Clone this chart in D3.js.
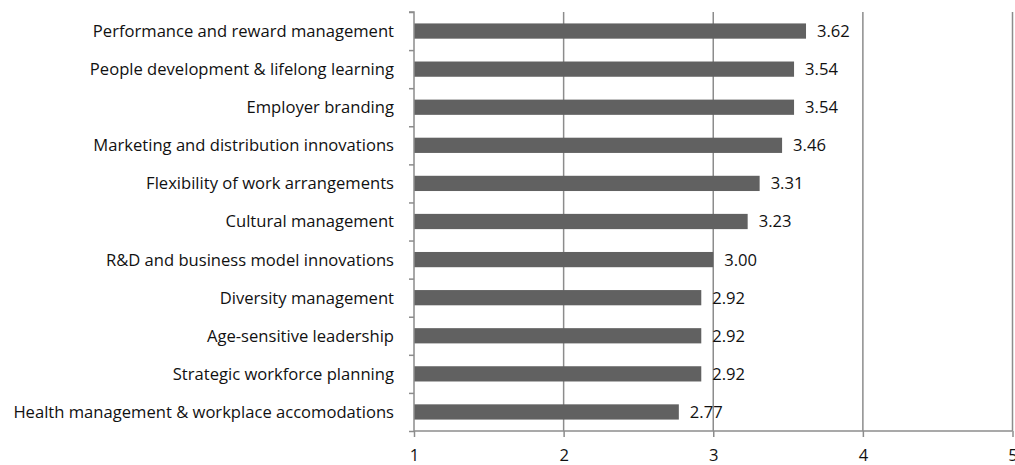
<!DOCTYPE html>
<html>
<head>
<meta charset="utf-8">
<script src="https://cdn.jsdelivr.net/npm/d3@7"></script>
<style>
  html, body { margin: 0; padding: 0; background: #fff; }
  svg { display: block; font-family: "Open Sans", "Liberation Sans", sans-serif; }
</style>
</head>
<body>
<svg id="chart" width="1015" height="465"></svg>
<script>
// Categories listed top to bottom with their mean scores
const categories = [
  "Performance and reward management",
  "People development & lifelong learning",
  "Employer branding",
  "Marketing and distribution innovations",
  "Flexibility of work arrangements",
  "Cultural management",
  "R&D and business model innovations",
  "Diversity management",
  "Age-sensitive leadership",
  "Strategic workforce planning",
  "Health management & workplace accomodations"
];
const values = [3.62, 3.54, 3.54, 3.46, 3.31, 3.23, 3.00, 2.92, 2.92, 2.92, 2.77];
const xTicks = [1, 2, 3, 4, 5];

const svg = d3.select("#chart");
const margin = { top: 12, right: 2, bottom: 34, left: 414 };
const W = 1015, H = 465;
const fontSize = 16.6;
const x = d3.scaleLinear().domain([1, 5]).range([margin.left, W - margin.right - 0.5]);
const y = d3.scaleBand().domain(categories).range([margin.top, H - margin.bottom]).paddingInner(0.6).paddingOuter(0.3);

const gridColor = "#8c8c8c";

// vertical gridlines
svg.append("g")
  .selectAll("line")
  .data(xTicks.slice(1))
  .join("line")
  .attr("x1", d => x(d)).attr("x2", d => x(d))
  .attr("y1", margin.top).attr("y2", H - margin.bottom)
  .attr("stroke", gridColor).attr("stroke-width", 1.5);

// bars
svg.append("g")
  .selectAll("rect")
  .data(values)
  .join("rect")
  .attr("x", x(1))
  .attr("y", (d, i) => y(categories[i]))
  .attr("width", d => x(d) - x(1))
  .attr("height", y.bandwidth())
  .attr("fill", "#616161");

// value labels
svg.append("g")
  .selectAll("text")
  .data(values)
  .join("text")
  .attr("x", d => x(d) + 11)
  .attr("y", (d, i) => y(categories[i]) + y.bandwidth() / 2)
  .attr("dy", "0.36em")
  .attr("font-size", fontSize)
  .attr("fill", "#111")
  .text(d => d.toFixed(2));

// category axis
const yAxis = d3.axisLeft(d3.scaleLinear().domain([0, categories.length]).range([margin.top, H - margin.bottom]))
  .ticks(categories.length).tickSize(5).tickFormat("");
const gy = svg.append("g").attr("transform", `translate(${margin.left},0)`).call(yAxis);
gy.selectAll("path, line").attr("stroke", gridColor).attr("stroke-width", 1.5);
gy.select(".domain").attr("d", `M-5,${margin.top}H0V${H - margin.bottom}`);

svg.append("g")
  .selectAll("text")
  .data(categories)
  .join("text")
  .attr("x", margin.left - 20)
  .attr("y", d => y(d) + y.bandwidth() / 2)
  .attr("dy", "0.36em")
  .attr("text-anchor", "end")
  .attr("font-size", fontSize)
  .attr("fill", "#111")
  .text(d => d);

// value axis
const xAxis = d3.axisBottom(x).tickValues(xTicks).tickSize(6).tickPadding(12).tickFormat(d3.format("d"));
const gx = svg.append("g").attr("transform", `translate(0,${H - margin.bottom})`).call(xAxis);
gx.selectAll("path, line").attr("stroke", gridColor).attr("stroke-width", 1.5);
gx.select(".domain").attr("d", `M${x(1)},0H${x(5)}`);
gx.selectAll("text").attr("font-size", fontSize).attr("fill", "#111").attr("font-family", "Open Sans, sans-serif");
</script>
</body>
</html>
